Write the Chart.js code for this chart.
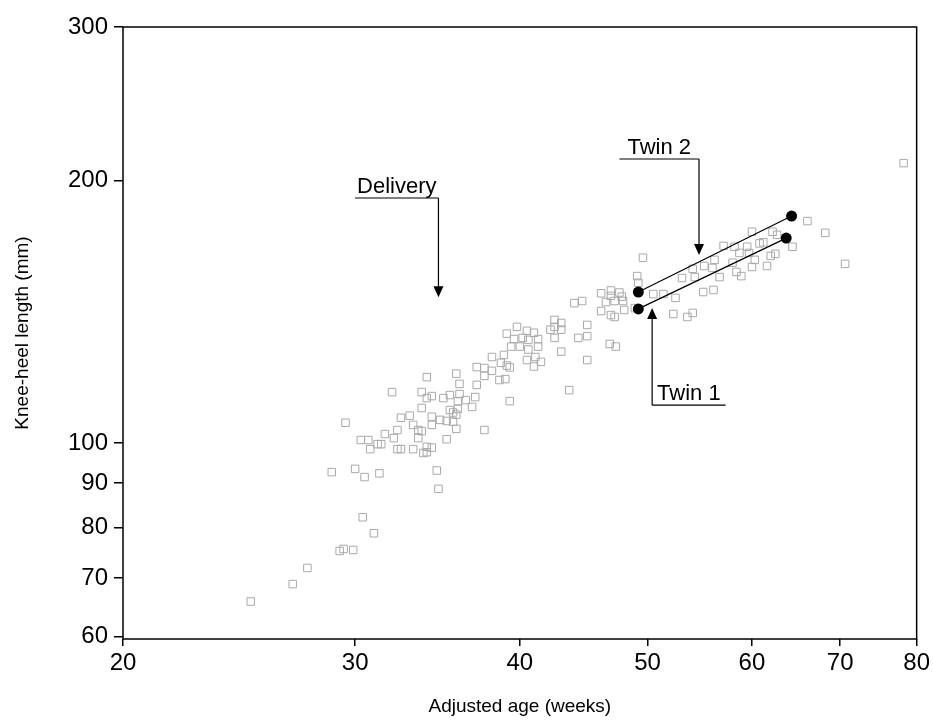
<!DOCTYPE html>
<html>
<head>
<meta charset="utf-8">
<script src="https://cdn.jsdelivr.net/npm/chart.js@4.4.1/dist/chart.umd.min.js"></script>
<style>
  html, body { margin: 0; padding: 0; background: #fff; }
  #wrap { width: 933px; height: 724px; }
</style>
</head>
<body>
<div id="wrap"><canvas id="knee-chart"></canvas></div>
<script>
// adjusted age (weeks) for every measurement (grey squares)
const ages = [
  25.0, 26.9, 27.6, 29.2, 29.4, 29.9, 31.0, 30.4, 28.8, 30.0,
  30.5, 31.3, 34.6, 34.7, 29.5, 32.0, 30.3, 30.7, 30.8, 31.2,
  31.4, 31.6, 32.1, 32.3, 32.3, 32.5, 33.2, 32.5, 33.0, 33.2,
  33.5, 33.7, 33.5, 33.8, 34.0, 34.0, 34.3, 34.3, 34.3, 33.7,
  33.7, 34.0, 34.3, 34.0, 34.8, 35.2, 35.2, 35.8, 35.4, 35.8,
  35.9, 35.0, 35.4, 35.9, 35.8, 36.0, 36.4, 36.8, 37.1, 37.1,
  37.0, 36.0, 35.6, 35.6, 37.6,
  37.6, 38.1, 37.6, 38.6, 39.0, 39.3, 38.9, 38.1, 38.7, 39.1,
  39.3, 39.8, 40.5, 41.0, 41.3, 39.1, 39.6, 40.2, 40.6, 41.3,
  39.4, 40.0, 40.6, 41.1, 41.5, 41.0, 40.5, 42.5, 43.0, 42.5,
  42.2, 43.0, 42.5, 45.0, 45.0, 44.3, 46.8, 47.3, 43.0, 45.0,
  43.6, 44.0, 44.6, 46.1, 46.9, 47.6, 46.9, 47.8, 47.9, 46.5,
  47.2, 46.1, 46.9, 47.2, 48.0, 48.9, 49.1, 49.2, 49.6,
  78.2, 66.1, 68.2, 70.6, 64.4, 60.0, 62.2, 62.7, 57.1, 58.2,
  59.5, 60.8, 61.2, 58.7, 59.7, 60.3, 58.0, 60.0, 61.6, 62.0,
  62.5, 56.2, 55.2, 54.1, 54.3, 53.1, 56.7, 56.0, 58.4, 58.9,
  55.1, 56.1, 52.5, 50.5, 51.4, 52.3, 53.6, 54.1
];

// knee-heel length (mm), same order as ages
const lengths = [
  65.8, 68.9, 71.9, 75.2, 75.6, 75.4, 78.8, 82.2, 92.6, 93.4,
  91.4, 92.3, 93.0, 88.6, 105.5, 114.4, 100.8, 100.8, 98.4, 99.7,
  99.7, 102.4, 101.3, 103.5, 98.4, 98.4, 98.4, 106.9, 107.5, 104.9,
  103.5, 103.2, 101.3, 97.4, 97.6, 99.0, 98.8, 104.9, 107.2, 109.7,
  114.4, 112.6, 113.2, 119.0, 106.3, 106.0, 101.0, 103.8, 109.1, 107.8,
  109.4, 112.6, 113.5, 111.7, 120.1, 116.9, 112.0, 110.0, 122.2, 116.6,
  112.9, 113.8, 108.4, 105.8, 103.5,
  121.9, 121.0, 119.4, 118.1, 118.4, 111.7, 126.2, 125.5, 123.6, 122.7,
  122.1, 135.9, 134.5, 133.8, 131.6, 133.5, 131.6, 132.0, 131.3, 129.0,
  129.0, 129.0, 128.0, 125.5, 123.9, 122.4, 124.5, 138.4, 137.3, 135.9,
  134.9, 134.9, 132.0, 136.6, 132.6, 132.0, 129.9, 129.0, 127.3, 124.5,
  115.0, 144.7, 145.5, 148.5, 149.6, 148.8, 147.5, 147.2, 145.5, 145.1,
  145.5, 141.7, 140.2, 139.5, 142.1, 142.8, 155.4, 152.7, 163.1,
  209.4, 179.7, 174.2, 160.5, 167.9, 174.7, 174.7, 173.3, 168.3, 167.9,
  167.9, 169.4, 169.9, 165.2, 165.2, 162.2, 161.0, 159.2, 159.6, 163.9,
  164.8, 162.2, 159.6, 158.4, 155.0, 154.6, 155.0, 158.8, 157.1, 155.4,
  149.0, 149.8, 146.7, 148.2, 148.2, 140.6, 139.5, 141.0
];

// the two twins, first and last measurement
const twin1Ages = [49.2, 63.7];
const twin1Lengths = [142.5, 171.8];
const twin2Ages = [49.2, 64.3];
const twin2Lengths = [149.0, 182.1];

const xTicks = [20, 30, 40, 50, 60, 70, 80];
const yTicks = [60, 70, 80, 90, 100, 200, 300];

// callouts: label sits on a short rule, arrow runs from the rule to the tip
const noteLabels = ['Delivery', 'Twin 2', 'Twin 1'];
const noteRuleFrom = [30.0, 47.6, 50.4];
const noteRuleTo = [34.7, 54.7, 57.3];
const noteRuleAt = [191.0, 211.7, 110.5];
const noteArrowX = [34.7, 54.7, 50.4];
const noteArrowTip = [147.0, 164.3, 142.8];

const FONT = '"Liberation Sans", Arial, Helvetica, sans-serif';

const toPoints = (xs, ys) => xs.map((v, i) => ({ x: v, y: ys[i] }));

// frame + annotation arrows
const callouts = {
  id: 'callouts',
  afterDatasetsDraw(chart) {
    const { ctx, chartArea: a, scales: { x, y } } = chart;
    ctx.save();
    ctx.strokeStyle = '#000';
    ctx.lineWidth = 1.5;
    ctx.strokeRect(a.left, a.top, a.right - a.left, a.bottom - a.top);

    ctx.lineWidth = 1.2;
    ctx.fillStyle = '#000';
    ctx.font = '22px ' + FONT;
    ctx.textAlign = 'center';
    ctx.textBaseline = 'alphabetic';
    noteLabels.forEach((txt, i) => {
      const x0 = x.getPixelForValue(noteRuleFrom[i]);
      const x1 = x.getPixelForValue(noteRuleTo[i]);
      const ry = y.getPixelForValue(noteRuleAt[i]);
      const ax = x.getPixelForValue(noteArrowX[i]);
      const ty = y.getPixelForValue(noteArrowTip[i]);
      const dir = ty > ry ? 1 : -1;

      ctx.fillText(txt, (x0 + x1) / 2, ry - 5);

      ctx.beginPath();
      ctx.moveTo(x0, ry);
      ctx.lineTo(x1, ry);
      ctx.moveTo(ax, ry);
      ctx.lineTo(ax, ty - dir * 10);
      ctx.stroke();

      // arrow head
      ctx.beginPath();
      ctx.moveTo(ax, ty);
      ctx.lineTo(ax - 5, ty - dir * 11);
      ctx.lineTo(ax + 5, ty - dir * 11);
      ctx.closePath();
      ctx.fill();
    });
    ctx.restore();
  }
};

const twinStyle = {
  showLine: true,
  borderColor: '#000',
  borderWidth: 1.2,
  backgroundColor: '#000',
  pointBackgroundColor: '#000',
  pointBorderColor: '#000',
  pointRadius: 5.5,
  pointBorderWidth: 0,
  order: 0
};

new Chart(document.getElementById('knee-chart'), {
  type: 'scatter',
  data: {
    datasets: [
      { label: 'Twin 1', data: toPoints(twin1Ages, twin1Lengths), ...twinStyle },
      { label: 'Twin 2', data: toPoints(twin2Ages, twin2Lengths), ...twinStyle },
      {
        label: 'All infants',
        data: toPoints(ages, lengths),
        pointStyle: 'rect',
        pointRadius: 5.3,
        pointBorderWidth: 1,
        pointBorderColor: '#a9a9a9',
        pointBackgroundColor: 'rgba(255,255,255,0)',
        order: 1
      }
    ]
  },
  options: {
    responsive: true,
    maintainAspectRatio: false,
    animation: false,
    layout: { padding: { top: 27, right: 16, left: 0, bottom: 0 } },
    plugins: {
      legend: { display: false },
      tooltip: { enabled: false }
    },
    scales: {
      x: {
        type: 'logarithmic',
        min: 20,
        max: 80,
        afterBuildTicks: (s) => { s.ticks = xTicks.map(v => ({ value: v })); },
        afterFit: (s) => { s.height = 85; },
        border: { display: false },
        grid: { drawOnChartArea: false, drawTicks: true, tickLength: 7, color: '#000', lineWidth: 1.5 },
        ticks: {
          color: '#000',
          font: { family: FONT, size: 24 },
          padding: 3,
          maxRotation: 0,
          autoSkip: false,
          callback: (v) => String(v)
        },
        title: {
          display: true,
          text: 'Adjusted age (weeks)',
          color: '#000',
          font: { family: FONT, size: 19 },
          padding: { top: 0, bottom: 6 }
        }
      },
      y: {
        type: 'logarithmic',
        min: 59.6,
        max: 300,
        afterBuildTicks: (s) => { s.ticks = yTicks.map(v => ({ value: v })); },
        afterFit: (s) => { s.width = 123; },
        border: { display: false },
        grid: { drawOnChartArea: false, drawTicks: true, tickLength: 9, color: '#000', lineWidth: 1.5 },
        ticks: {
          color: '#000',
          font: { family: FONT, size: 24 },
          padding: 6,
          autoSkip: false,
          callback: (v) => String(v)
        },
        title: {
          display: true,
          text: 'Knee-heel length (mm)',
          color: '#000',
          font: { family: FONT, size: 19 },
          padding: { top: 11, bottom: 0 }
        }
      }
    }
  },
  plugins: [callouts]
});
</script>
</body>
</html>
